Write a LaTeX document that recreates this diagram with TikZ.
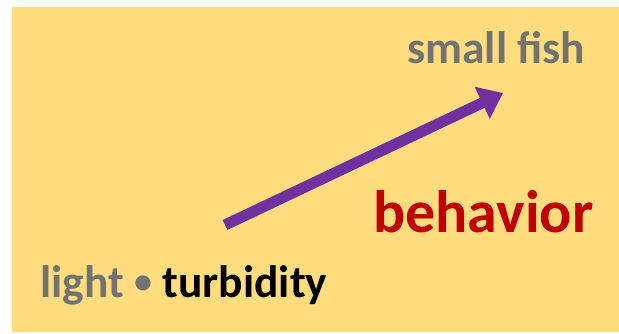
\documentclass[tikz,border=0pt]{standalone}
\usepackage{fontspec}
\setmainfont{Carlito}
\usetikzlibrary{arrows.meta, positioning}
\definecolor{cyellow}{HTML}{FFDD7F}
\definecolor{cpurple}{HTML}{7030A0}
\definecolor{cgrey}{HTML}{737373}
\definecolor{cred}{HTML}{C00000}
\tikzset{
  every picture/.style={font=\bfseries, x=1pt, y=1pt},
  label text/.style={inner sep=0pt, anchor=base west, font=\fontsize{45.5}{52}\selectfont\bfseries},
  big text/.style={inner sep=0pt, anchor=base west, font=\fontsize{60}{68}\selectfont\bfseries},
  arrow/.style={-{Triangle[length=23pt, width=34pt]}, draw=cpurple, line width=11pt},
}
\begin{document}
\begin{tikzpicture}
  \useasboundingbox (0,0) rectangle (619,333);
  \fill[cyellow] (12,1) rectangle (619,326);
  \node[label text, text=cgrey] (fish) at (407,270) {small fish};
  \node[big text, text=cred] (beh) at (373,101) {behavior};
  \node[label text] (cond) at (40,36) {\textcolor{cgrey}{light \raisebox{3.5pt}{\fontsize{36}{36}\selectfont•}} turbidity};
  \coordinate (tail) at (225,108);
  \coordinate (tip) at (503,240);
  \draw[arrow] (tail) -- (tip);
\end{tikzpicture}
\end{document}
